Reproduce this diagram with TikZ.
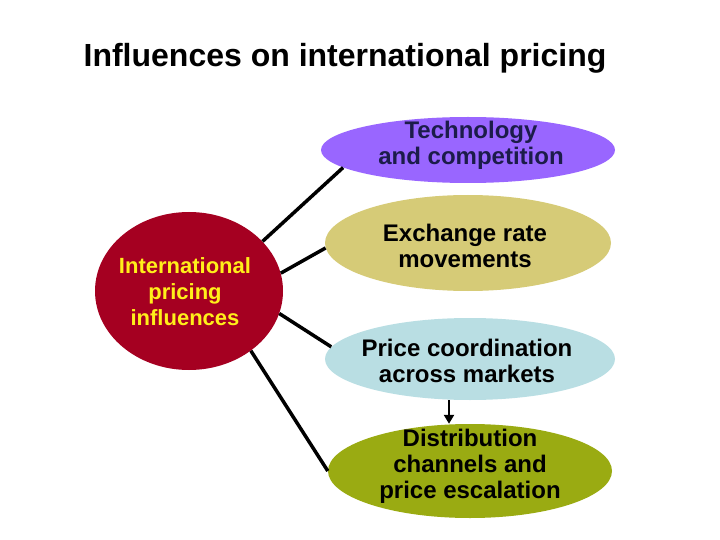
\documentclass[tikz,border=0pt]{standalone}
\usepackage{fontspec}
\setmainfont{Liberation Sans}
\usetikzlibrary{shapes.geometric,arrows.meta}
\definecolor{hubred}{HTML}{A50021}
\definecolor{hubtext}{HTML}{FFEF1A}
\definecolor{techfill}{HTML}{9966FF}
\definecolor{techtext}{HTML}{1C1C4A}
\definecolor{exchfill}{HTML}{D6CB77}
\definecolor{pcfill}{HTML}{B9DEE3}
\definecolor{distfill}{HTML}{9AAB12}
\begin{document}
\begin{tikzpicture}[x=1pt,y=-1pt,
  oval/.style={ellipse, draw=none, inner sep=0pt},
  lbl/.style={align=center, font=\bfseries\fontsize{24}{26}\selectfont},
  link/.style={line width=3.5pt, black}]
\useasboundingbox (0,0) rectangle (720,540);
\node[font=\bfseries\fontsize{32}{36}\selectfont, anchor=base] (title) at (345,67) {Influences on international pricing};
% hub
\node[oval, fill=hubred, minimum width=188pt, minimum height=158pt] (hub) at (189,291) {};
\node[lbl, text=hubtext, font=\bfseries\fontsize{22}{26}\selectfont] (hubT) at (185,292) {International\\pricing\\influences};
% ellipses
\node[oval, fill=techfill, minimum width=294pt, minimum height=66pt] (tech) at (468,150) {};
\node[lbl, text=techtext] (techT) at (471,145) {Technology\\and competition};
\node[oval, fill=exchfill, minimum width=286pt, minimum height=96pt] (exch) at (468,243) {};
\node[lbl] (exchT) at (465,246) {Exchange rate\\movements};
\node[oval, fill=pcfill, minimum width=290pt, minimum height=82pt] (pc) at (470,359) {};
\node[lbl] (pcT) at (467,361) {Price coordination\\across markets};
\node[oval, fill=distfill, minimum width=284pt, minimum height=94pt] (dist) at (470,471) {};
\node[lbl] (distT) at (470,466) {Distribution\\channels and\\price escalation};
% connectors
\draw[link] (hub.34) -- (tech.188);
\draw[link] (hub.11) -- (exch.182);
\draw[link] (hub.-14) -- (pc.175);
\draw[link] (hub.-44) -- (dist.180);
\draw[line width=2.5pt, -{Triangle[length=9pt,width=10pt]}] ([xshift=-21pt]pc.south) -- ([xshift=-21pt]dist.north);
\end{tikzpicture}
\end{document}
